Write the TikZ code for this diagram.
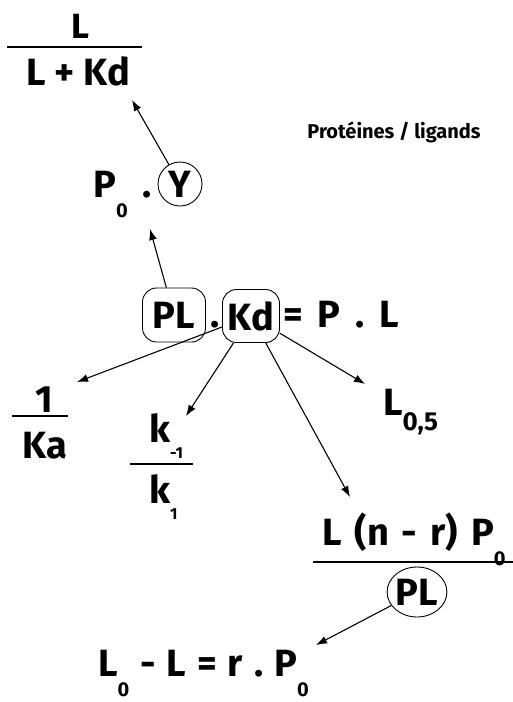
\documentclass[tikz,border=0pt]{standalone}
\usepackage{fontspec}
\setmainfont{Fira Sans}
\usetikzlibrary{arrows.meta,shapes.geometric}
\newcommand\sbz[1]{\raisebox{-20pt}{\fontsize{20}{20}\selectfont #1}}
\newcommand\sbk[1]{\raisebox{-16pt}{\fontsize{16}{16}\selectfont #1}}
\newcommand\sbl[1]{\raisebox{-15pt}{\fontsize{26}{26}\selectfont #1}}
\newcommand\gp{\hspace{15pt}}
\newcommand\gq{\hspace{13pt}}
\newcommand\gr{\hspace{11pt}}
\begin{document}
\begin{tikzpicture}[x=1pt,y=-1pt,
  txt/.style={inner sep=0pt, font=\fontsize{38}{40}\selectfont\bfseries},
  small/.style={inner sep=0pt, font=\fontsize{20}{22}\selectfont\bfseries},
  fbar/.style={line width=2.6pt},
  blob/.style={draw, line width=0.9pt, rounded corners=14pt, inner sep=0pt},
  ring/.style={draw, line width=0.9pt, ellipse, inner sep=0pt},
  arr/.style={line width=1.1pt, -{Latex[length=11pt,width=8pt]}}]
\useasboundingbox (0,0) rectangle (513,702);
% top fraction
\node[txt, font=\fontsize{35}{36}\selectfont\bfseries, anchor=base] (tnum) at (80,38) {L};
\node[txt, anchor=base] (tden) at (78,85) {L + Kd};
\draw[fbar] (7,47) -- (142,47);
% title
\node[small] (prot) at (394,132) {Protéines / ligands};
% P0 . Y
\node[txt, anchor=base west] (P0) at (93,197) {P\sbz{0}\gp.};
\node[txt, circle, draw, line width=0.9pt, minimum size=44pt] (Y) at (180,184) {Y};
% PL . Kd = P . L
\node[txt, blob, minimum width=63pt, minimum height=54pt] (PL) at (174,315) {PL};
\node[txt, anchor=base] (dot) at (215,327) {.};
\node[txt, blob, minimum width=57pt, minimum height=53pt] (Kd) at (251,316) {Kd};
\node[txt, anchor=base west] (eq) at (283,327) {=\gp P\gp.\gp L};
% 1/Ka
\node[txt, anchor=base] (one) at (44,412) {1};
\draw[fbar] (12,416) -- (68,416);
\node[txt, anchor=base] (Ka) at (45,458) {Ka};
% k-1/k1
\node[txt, anchor=base west] (km) at (149,442) {k\sbk{-1}};
\draw[fbar] (130,464) -- (193,464);
\node[txt, anchor=base west] (k1) at (149,503) {k\sbk{1}};
% L0,5
\node[txt, anchor=base west] (L05) at (383,415) {L\sbl{0,5}};
% L(n-r)P0 / PL
\node[txt, anchor=base west] (num) at (322,545) {L\gq(n\gq-\gq r)\gq P\sbz{0}};
\draw[fbar] (313,562) -- (513,562);
\node[txt, ring, minimum width=59pt, minimum height=50pt] (PL2) at (417,592) {PL};
% bottom
\node[txt, anchor=base east] (bot) at (309,676) {L\sbz{0}\gr-\gr L\gr=\gr r\gr.\gr P\sbz{0}};
% arrow tips
\coordinate (t1) at (132,100);
\coordinate (t2) at (150,229);
\coordinate (t3) at (77,382);
\coordinate (t4) at (186,416);
\coordinate (t5) at (350,497);
\coordinate (t6) at (365,384);
\coordinate (t7) at (316,645);
\draw[arr] (Y) -- (t1);
\draw[arr] (PL) -- (t2);
\draw[arr] (Kd) -- (t3);
\draw[arr] (Kd) -- (t4);
\draw[arr] (Kd) -- (t5);
\draw[arr] (Kd) -- (t6);
\draw[arr] (PL2) -- (t7);
\end{tikzpicture}
\end{document}
